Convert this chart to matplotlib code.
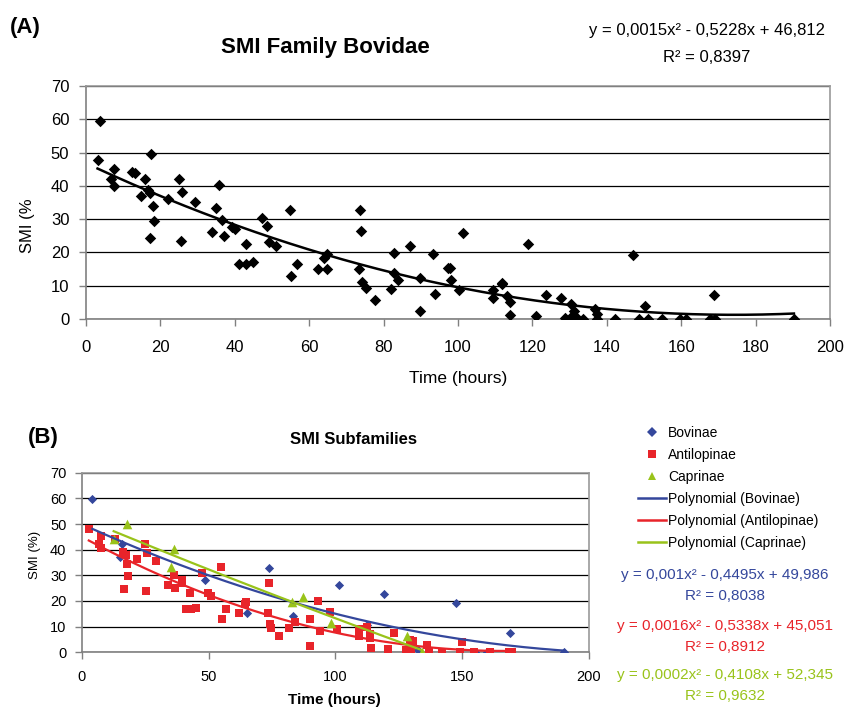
import numpy as np
import matplotlib
matplotlib.use("Agg")
import matplotlib.pyplot as plt
from matplotlib.lines import Line2D

plt.rcParams['font.family'] = ['Liberation Sans', 'DejaVu Sans']

# (A) whole family
a_time = [3.1, 3.7, 7.4, 6.7, 7.4, 12.5, 13.1, 15.9, 14.7, 16.8, 17.5, 17.2, 17.9, 18.3, 17.1,
          22.1, 25.1, 25.8, 25.5, 29.4, 33.9, 35.0, 35.8, 36.5, 37.0, 39.3, 40.1, 41.0, 43.1, 43.0,
          45.0, 47.2, 48.7, 49.3, 51.0, 54.8, 55.2, 56.7, 62.4, 64.0, 64.7, 64.8, 73.6, 73.9, 73.5,
          74.3, 75.2, 77.7, 82.0, 82.8, 82.7, 83.8, 87.0, 89.9, 89.9,
          93.4, 93.7, 97.2, 97.8, 98.0, 100.4, 101.4, 109.5, 109.5, 111.7, 111.7, 113.3, 114.0, 114.0,
          118.9, 120.9, 123.6, 127.8, 128.8, 130.5, 130.5, 131.2, 131.9, 133.7, 136.8, 137.3, 137.3,
          142.2, 147.1, 148.7, 150.3, 151.0, 154.9, 159.7, 161.3, 167.7, 168.9, 169.1, 190.3]
a_smi = [47.9, 59.5, 45.1, 42.1, 39.9, 44.2, 43.8, 42.1, 37.1, 38.8, 49.6, 37.8, 33.9, 29.3, 24.3,
         36.1, 42.1, 38.3, 23.4, 35.3, 26.0, 33.3, 40.4, 29.8, 24.8, 27.6, 27.1, 16.6, 22.6, 16.6,
         17.0, 30.4, 28.0, 23.0, 21.9, 32.8, 12.8, 16.6, 14.9, 18.4, 14.9, 19.4, 32.8, 26.4, 14.9,
         11.1, 9.3, 5.6, 8.9, 19.7, 13.9, 11.8, 21.8, 12.2, 2.4,
         19.6, 7.6, 15.4, 15.4, 11.6, 8.6, 25.9, 8.6, 6.4, 10.4, 10.8, 7.0, 5.1, 1.3,
         22.6, 0.9, 7.3, 6.4, 0.4, 4.4, 0.6, 2.4, 0.4, 0.1, 2.9, 1.4, 0.0,
         0.0, 19.1, 0.0, 3.8, 0.0, 0.0, 0.0, 0.0, 0.0, 7.3, 0.0, 0.0]
a_coef = [0.0015, -0.5228, 46.812]

# (B) subfamilies
bov_time = [4.2, 16.0, 15.1, 48.7, 65.0, 73.8, 83.2, 101.6, 112.3, 119.3, 132.5, 147.4, 155.0,
            159.8, 169.0, 190.3]
bov_smi = [59.6, 42.2, 37.0, 28.1, 15.2, 33.0, 14.3, 26.4, 10.8, 22.6, 0.8, 19.4, 0.0,
           0.0, 7.7, 0.3]
ant_time = [2.8, 7.5, 7.0, 7.5, 13.0, 16.3, 17.6, 18.0, 18.4, 16.8, 24.9, 25.9, 21.7, 29.3, 25.5,
            33.9, 36.4, 36.8, 39.5, 39.6, 42.7, 41.2, 43.0, 44.9, 47.5, 49.6, 50.9, 55.1, 56.8, 55.4,
            62.1, 64.3, 64.7, 73.9, 73.5, 74.3, 74.8, 77.7, 81.9, 84.0, 89.9, 89.9, 93.3, 93.9, 97.8,
            100.6, 109.5, 109.5, 112.3, 113.6, 113.6, 114.0, 120.7, 123.2, 128.0, 130.0, 130.6, 129.5,
            136.1, 137.1, 142.0, 149.9, 149.2, 154.5, 161.1, 168.3, 169.5]
ant_smi = [48.2, 45.3, 42.3, 40.5, 44.0, 39.1, 38.1, 34.4, 29.7, 24.5, 42.2, 38.6, 36.5, 35.7, 24.0,
           26.1, 30.1, 25.2, 28.2, 26.9, 23.2, 17.0, 17.0, 17.4, 30.8, 23.2, 21.9, 33.2, 17.0, 13.1,
           15.2, 18.8, 19.6, 27.0, 15.2, 11.0, 9.5, 6.4, 9.6, 11.9, 12.9, 2.5, 20.1, 8.2, 15.7,
           9.0, 9.0, 6.5, 10.0, 7.0, 5.5, 1.7, 1.2, 7.4, 0.9, 0.9, 4.4, 4.8,
           2.9, 0.3, 0.3, 4.2, 0.3, 0.3, 0.3, 0.3, 0.3]
cap_time = [12.6, 17.7, 36.4, 35.1, 82.8, 87.4, 98.2, 128.1, 134.1]
cap_smi = [44.2, 50.0, 40.4, 33.2, 19.6, 21.7, 11.6, 6.5, 0.0]

bov_coef = [0.001, -0.4495, 49.986]
ant_coef = [0.0016, -0.5338, 45.051]
cap_coef = [0.0002, -0.4108, 52.345]

BLUE = '#34479C'
RED = '#E8242A'
GREEN = '#99C31A'


def style_axes(ax, fs, xpad, ypad):
    ax.set_ylim(0, 70)
    ax.set_yticks(range(0, 71, 10))
    ax.yaxis.grid(True, color='black', lw=0.9)
    ax.set_axisbelow(True)
    for s in ('top', 'right'):
        ax.spines[s].set_color('#9a9a9a')
        ax.spines[s].set_linewidth(1.2)
    for s in ('left', 'bottom'):
        ax.spines[s].set_color('#808080')
        ax.spines[s].set_linewidth(1.2)
    ax.tick_params(direction='out', length=5, width=1, color='#808080', labelsize=fs)
    ax.tick_params(axis='x', pad=xpad)
    ax.tick_params(axis='y', pad=ypad)


def trend(ax, xs, coef, **kw):
    xx = np.linspace(min(xs), max(xs), 200)
    ax.plot(xx, np.polyval(coef, xx), **kw)


fig = plt.figure(figsize=(8.45, 7.07), dpi=100)

# ---- panel A
axA = fig.add_axes([86 / 845, 1 - 319 / 707, 744 / 845, 233 / 707])
style_axes(axA, 12, 10, 7)
axA.set_xlim(0, 200)
axA.set_xticks(range(0, 201, 20))
axA.scatter(a_time, a_smi, marker='D', s=34, color='black', zorder=3, linewidths=0)
trend(axA, a_time, a_coef, color='black', lw=1.8, zorder=4)

fig.text(10 / 845, 1 - 28 / 707, '(A)', fontsize=16, fontweight='bold', va='center')
fig.text(325 / 845, 1 - 47 / 707, 'SMI Family Bovidae', fontsize=16, fontweight='bold',
         ha='center', va='center')
fig.text(707 / 845, 1 - 30 / 707, 'y = 0,0015x² - 0,5228x + 46,812', fontsize=12,
         ha='center', va='center')
fig.text(707 / 845, 1 - 57 / 707, 'R² = 0,8397', fontsize=12, ha='center', va='center')
fig.text(28 / 845, 1 - 226 / 707, 'SMI (%', fontsize=12, rotation=90, ha='center', va='center')
fig.text(458 / 845, 1 - 378 / 707, 'Time (hours)', fontsize=12.5, ha='center', va='center')

# ---- panel B
axB = fig.add_axes([81.7 / 845, 1 - 652.3 / 707, 507.3 / 845, 179.6 / 707])
style_axes(axB, 10.5, 8, 6)
axB.set_xlim(0, 200)
axB.set_xticks(range(0, 201, 50))
axB.scatter(bov_time, bov_smi, marker='D', s=22, color=BLUE, zorder=3, linewidths=0)
axB.scatter(ant_time, ant_smi, marker='s', s=34, color=RED, zorder=3, linewidths=0)
axB.scatter(cap_time, cap_smi, marker='^', s=48, color=GREEN, zorder=3, linewidths=0)
trend(axB, bov_time, bov_coef, color=BLUE, lw=1.6, zorder=4)
trend(axB, ant_time, ant_coef, color=RED, lw=1.6, zorder=4)
trend(axB, cap_time, cap_coef, color=GREEN, lw=1.6, zorder=4)

fig.text(28 / 845, 1 - 437 / 707, '(B)', fontsize=16, fontweight='bold', va='center')
fig.text(354 / 845, 1 - 440 / 707, 'SMI Subfamilies', fontsize=12, fontweight='bold',
         ha='center', va='center')
fig.text(35 / 845, 1 - 555 / 707, 'SMI (%)', fontsize=9.5, rotation=90, ha='center', va='center')
fig.text(334 / 845, 1 - 700 / 707, 'Time (hours)', fontsize=11, fontweight='bold',
         ha='center', va='center')

handles = [
    Line2D([], [], ls='none', marker='D', ms=5, color=BLUE, mew=0),
    Line2D([], [], ls='none', marker='s', ms=6, color=RED, mew=0),
    Line2D([], [], ls='none', marker='^', ms=6, color=GREEN, mew=0),
    Line2D([], [], color=BLUE, lw=1.8),
    Line2D([], [], color=RED, lw=1.8),
    Line2D([], [], color=GREEN, lw=1.8),
]
labels = ['Bovinae', 'Antilopinae', 'Caprinae', 'Polynomial (Bovinae)',
          'Polynomial (Antilopinae)', 'Polynomial (Caprinae)']
fig.legend(handles, labels, loc='upper left', bbox_to_anchor=(638 / 845, 1 - 426 / 707),
           frameon=False, fontsize=10, handlelength=2.0, handletextpad=0.15,
           labelspacing=0.58, borderpad=0, borderaxespad=0)

eqs = [
    ('y = 0,001x² - 0,4495x + 49,986', 'R² = 0,8038', BLUE, 575),
    ('y = 0,0016x² - 0,5338x + 45,051', 'R² = 0,8912', RED, 626),
    ('y = 0,0002x² - 0,4108x + 52,345', 'R² = 0,9632', GREEN, 675),
]
for eq, r2, col, ypx in eqs:
    fig.text(725 / 845, 1 - ypx / 707, eq, fontsize=11, color=col, ha='center', va='center')
    fig.text(725 / 845, 1 - (ypx + 21) / 707, r2, fontsize=11, color=col, ha='center', va='center')

fig.savefig('out.png', dpi=100)
